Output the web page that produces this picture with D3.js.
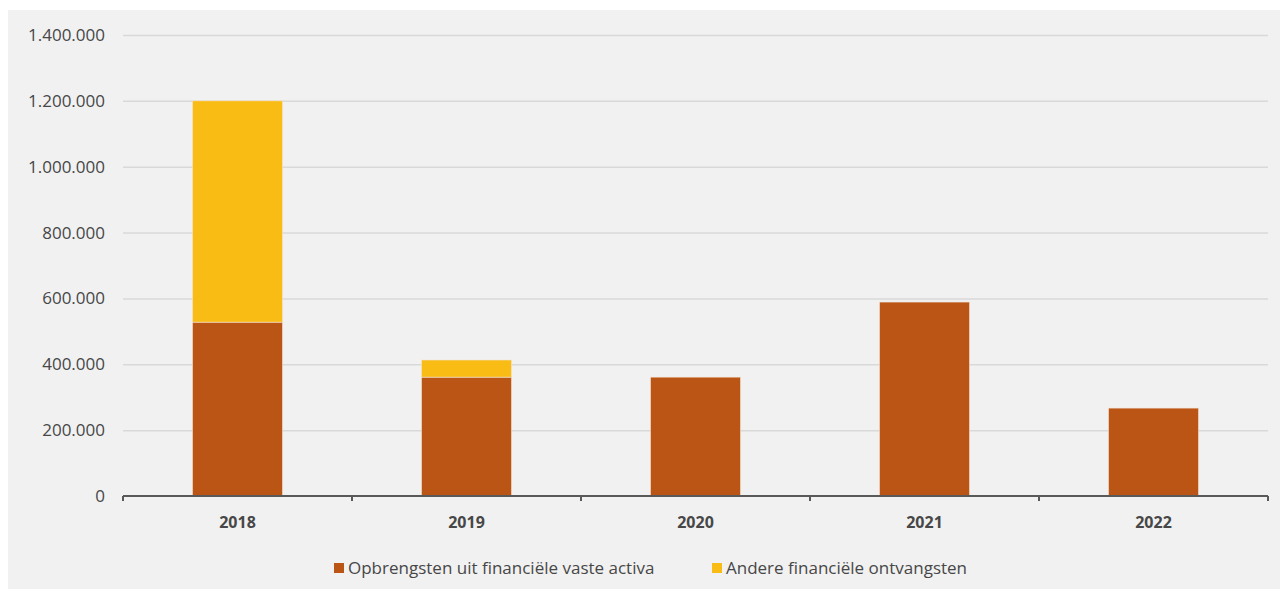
<!DOCTYPE html>
<html>
<head>
<meta charset="utf-8">
<title>Financiële ontvangsten</title>
<script src="https://d3js.org/d3.v7.min.js"></script>
<style>
  body { margin: 0; background: #fff; }
  .grid line { stroke: #d9d9d9; stroke-width: 1.5px; }
  .grid .domain { display: none; }
</style>
</head>
<body>
<script>
// data
var years = ["2018", "2019", "2020", "2021", "2022"];
var opbrengsten = [528000, 361000, 361000, 589000, 267000];
var andere = [672000, 52000, 0, 0, 0];
var seriesNames = ["Opbrengsten uit financiële vaste activa", "Andere financiële ontvangsten"];
var yTicks = [0, 200000, 400000, 600000, 800000, 1000000, 1200000, 1400000];

var W = 1280, H = 591;
var margin = {top: 35, right: 12, bottom: 95, left: 123};
var colors = ["#bb5515", "#f8bc15"];
var font = "'Open Sans', sans-serif";
var textCol = "#474747";

var svg = d3.select("body").append("svg")
    .attr("width", W).attr("height", H);

svg.append("rect")
    .attr("x", 8).attr("y", 10)
    .attr("width", W - 8).attr("height", 579)
    .attr("fill", "#f1f1f1");

var g = svg.append("g")
    .attr("transform", "translate(" + margin.left + "," + margin.top + ")");

var w = W - margin.left - margin.right;
var h = 496 - margin.top;

var x = d3.scaleBand().domain(years).range([0, w]).paddingInner(0.607).paddingOuter(0.3035);
var y = d3.scaleLinear().domain([0, 1400000]).range([h, 0]);

var fmt = function(v) { return d3.format(",")(v).replace(/,/g, "."); };

// gridlines
g.append("g").attr("class", "grid")
    .call(d3.axisLeft(y).tickValues(yTicks.slice(1)).tickSize(-w).tickFormat(""));

// y labels
g.selectAll(".ylab").data(yTicks).enter().append("text")
    .attr("class", "ylab")
    .attr("x", -18).attr("y", function(d) { return y(d); })
    .attr("dy", "0.35em")
    .attr("text-anchor", "end")
    .style("font-family", font).style("font-size", "17px").style("fill", textCol)
    .text(fmt);

// stacked bars
var rows = years.map(function(yr, i) { return {year: yr, a: opbrengsten[i], b: andere[i]}; });
var stack = d3.stack().keys(["a", "b"])(rows);

g.selectAll(".layer").data(stack).enter().append("g")
    .attr("fill", function(d, i) { return colors[i]; })
  .selectAll("rect").data(function(d) { return d.filter(function(p) { return p[1] > p[0]; }); })
  .enter().append("rect")
    .attr("x", function(d) { return x(d.data.year); })
    .attr("width", x.bandwidth())
    .attr("y", function(d) { return y(d[1]); })
    .attr("height", function(d) { return y(d[0]) - y(d[1]); })
    .attr("stroke", "#f4e3d3").attr("stroke-width", 0.6);

// x axis with ticks at band boundaries
var step = x.step();
var axis = g.append("g").attr("transform", "translate(0," + h + ")");
axis.append("line").attr("x1", 0).attr("x2", w).attr("y1", 0).attr("y2", 0)
    .attr("stroke", "#595959").attr("stroke-width", 2);
var bounds = d3.range(years.length + 1).map(function(i) { return i * step; });
axis.selectAll(".tk").data(bounds).enter().append("line")
    .attr("x1", function(d) { return d; }).attr("x2", function(d) { return d; })
    .attr("y1", 0).attr("y2", 5)
    .attr("stroke", "#595959").attr("stroke-width", 2);
axis.selectAll(".xl").data(years).enter().append("text")
    .attr("x", function(d) { return x(d) + x.bandwidth() / 2; })
    .attr("y", 32)
    .attr("text-anchor", "middle")
    .style("font-family", font).style("font-size", "16px").style("font-weight", "bold").style("fill", textCol)
    .text(function(d) { return d; });

// legend
var legendX = [334, 712];
var leg = svg.selectAll(".leg").data(seriesNames).enter().append("g")
    .attr("transform", function(d, i) { return "translate(" + legendX[i] + ",568)"; });
leg.append("rect").attr("x", 0).attr("y", -5).attr("width", 10).attr("height", 10)
    .attr("fill", function(d, i) { return colors[i]; });
leg.append("text").attr("x", 14).attr("y", 0).attr("dy", "0.35em")
    .style("font-family", font).style("font-size", "17px").style("fill", textCol)
    .text(function(d) { return d; });
</script>
</body>
</html>
